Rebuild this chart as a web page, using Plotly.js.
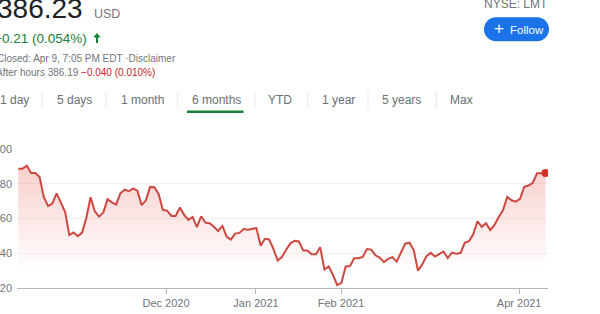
<!DOCTYPE html>
<html>
<head>
<meta charset="utf-8">
<script src="https://cdn.plot.ly/plotly-3.0.1.min.js"></script>
<style>
  html, body { margin: 0; padding: 0; background: #fff; overflow: hidden; }
  #chart { width: 600px; height: 314px; }
</style>
</head>
<body>
<div id="chart"></div>
<script>
// LMT daily closes, Oct 9 2020 – Apr 9 2021 (one value per trading session)
const closes = [
  388.7, 388.7, 390.4, 386.2, 386.2, 383.9, 372.4, 367.1, 368.6, 374.5,
  369.3, 363.9, 350.5, 351.9, 349.8, 351.9, 360.3, 372.2, 364.1, 361.1,
  363.5, 371.1, 369.3, 368.0, 374.5, 376.6, 375.7, 377.3, 376.0, 367.7,
  370.3, 378.2, 378.0, 374.1, 364.9, 364.5, 361.5, 361.5, 366.3, 362.1,
  359.2, 360.9, 355.0, 361.3, 357.6, 357.3, 355.2, 352.8, 355.7, 349.6,
  347.9, 351.3, 351.7, 353.9, 353.6, 353.9, 354.5, 344.3, 348.3, 347.9,
  342.5, 335.8, 337.8, 342.0, 345.7, 347.2, 346.8, 341.6, 341.6, 339.4,
  339.4, 343.5, 330.6, 332.4, 327.6, 321.7, 323.0, 332.4, 332.6, 337.1,
  337.1, 337.9, 342.4, 342.1, 338.8, 337.5, 334.9, 336.8, 337.8, 335.2,
  340.8, 345.5, 346.1, 341.8, 330.0, 333.6, 338.3, 340.2, 338.1, 339.8,
  341.0, 337.2, 340.4, 339.7, 340.1, 346.0, 347.0, 350.9, 358.4, 355.2,
  357.3, 353.4, 356.3, 360.9, 364.8, 372.4, 370.5, 369.7, 371.3, 378.3,
  379.0, 380.5, 386.0, 386.02, 386.23
];

// month ticks on the session axis
const monthTickPos  = [34.75, 55.9, 75.9, 117.8];
const monthTickText = ['Dec 2020', 'Jan 2021', 'Feb 2021', 'Apr 2021'];

// price axis ticks
const priceTicks = [320, 340, 360, 380, 400];

// range selector labels
const rangeLabels  = ['1 day', '5 days', '1 month', '6 months', 'YTD', '1 year', '5 years', 'Max'];
const rangeLabelX  = [-0.5, 57, 121, 191.5, 268, 322, 382, 450];
const separatorX   = [42, 105.8, 177.7, 255, 307.7, 368, 436.5];

// quote header
const lastPrice   = '386.23';
const currency    = 'USD';
const dayChange   = '+0.21 (0.054%)';
const closedNote  = 'Closed: Apr 9, 7:05 PM EDT ·Disclaimer';
const afterHours  = 'After hours 386.19';
const afterChange = '−0.040 (0.010%)';
const ticker      = 'NYSE: LMT';

const FONT = 'Liberation Sans, Arial, sans-serif';
const GREY = '#70757a';
const GREEN = '#188038';
const LINE = '#cc4840';

// plot box in page pixels
const L = 17, R = 548, T = 149, B = 288.3;
const W = R - L, H = B - T;
const px = v => (v - L) / W;
const py = v => (B - v) / H;

const idx = closes.map((_, i) => i);
const last = closes.length - 1;

const traces = [
  {
    x: idx, y: closes, type: 'scatter', mode: 'lines',
    line: { color: LINE, width: 2 },
    fill: 'tozeroy',
    fillgradient: {
      type: 'vertical',
      start: 330, stop: 392,
      colorscale: [[0, 'rgba(226,80,70,0)'], [1, 'rgba(226,80,70,0.28)']]
    },
    hoverinfo: 'skip'
  },
  {
    x: [idx[last]], y: [closes[last]], type: 'scatter', mode: 'markers',
    marker: { color: '#d93025', size: 8 },
    hoverinfo: 'skip'
  }
];

function text(t, x, y, size, color, anchor) {
  return {
    text: t, xref: 'paper', yref: 'paper', x: px(x), y: py(y),
    xanchor: anchor || 'left', yanchor: 'middle', showarrow: false,
    borderpad: 0, borderwidth: 0,
    font: { family: FONT, size: size, color: color }
  };
}

const annotations = [
  text(lastPrice, -3.5, 8.5, 28, '#202124'),
  text(currency, 94, 14.2, 12.5, GREY),
  text(dayChange, -6.5, 38, 13.5, GREEN),
  text(closedNote, -3, 58, 10, GREY),
  text(afterHours + ' <span style="color:#c5221f">' + afterChange + '</span>', -3.6, 72, 10, GREY),
  text(ticker, 548, 4, 12, GREY, 'right'),
  text('+', 499, 28.5, 17, '#ffffff', 'center'),
  text('Follow', 509.5, 29.3, 11.5, '#ffffff')
];
rangeLabels.forEach((lab, i) => {
  annotations.push(text(lab, rangeLabelX[i], 100, 12, '#6b6f74'));
});

function pathOf(pts) {
  return pts.map((p, i) => (i ? 'L' : 'M') + px(p[0]) + ',' + py(p[1])).join(' ') + ' Z';
}

const shapes = [
  // follow button (pill)
  {
    type: 'path', xref: 'paper', yref: 'paper', layer: 'above',
    path: 'M' + px(496) + ',' + py(17) + ' L' + px(537) + ',' + py(17) +
      ' C' + px(543.6) + ',' + py(17) + ' ' + px(549) + ',' + py(22.4) + ' ' + px(549) + ',' + py(29) +
      ' C' + px(549) + ',' + py(35.6) + ' ' + px(543.6) + ',' + py(41) + ' ' + px(537) + ',' + py(41) +
      ' L' + px(496) + ',' + py(41) +
      ' C' + px(489.4) + ',' + py(41) + ' ' + px(484) + ',' + py(35.6) + ' ' + px(484) + ',' + py(29) +
      ' C' + px(484) + ',' + py(22.4) + ' ' + px(489.4) + ',' + py(17) + ' ' + px(496) + ',' + py(17) + ' Z',
    fillcolor: '#1a73e8', line: { width: 0 }
  },
  // up arrow after the day change
  {
    type: 'path', xref: 'paper', yref: 'paper', layer: 'above',
    path: pathOf([[97, 32.8], [100.8, 37.2], [98, 37.2], [98, 42.8], [96, 42.8], [96, 37.2], [93.2, 37.2]]),
    fillcolor: GREEN, line: { width: 0 }
  },
  // active range underline
  {
    type: 'rect', xref: 'paper', yref: 'paper', layer: 'above',
    x0: px(187), x1: px(243.5), y0: py(110.5), y1: py(113),
    fillcolor: GREEN, line: { width: 0 }
  }
];
separatorX.forEach(sx => {
  shapes.push({
    type: 'line', xref: 'paper', yref: 'paper',
    x0: px(sx), x1: px(sx), y0: py(91), y1: py(109),
    line: { color: '#e8eaed', width: 1 }
  });
});

const layout = {
  width: 600, height: 314,
  margin: { l: L, r: 600 - R, t: T, b: 314 - B, pad: 0 },
  paper_bgcolor: '#ffffff', plot_bgcolor: '#ffffff',
  showlegend: false,
  font: { family: FONT, color: GREY },
  xaxis: {
    range: [-0.306, 124.58],
    showgrid: false, zeroline: false,
    showline: true, linecolor: '#b4b8bc', linewidth: 1,
    ticks: 'outside', ticklen: 5, tickcolor: '#b4b8bc', tickwidth: 1,
    tickmode: 'array', tickvals: monthTickPos, ticktext: monthTickText,
    tickfont: { family: FONT, size: 11, color: GREY }
  },
  yaxis: {
    range: [320, 400],
    tickmode: 'array', tickvals: priceTicks,
    showgrid: true, gridcolor: '#f1f1f1', gridwidth: 1,
    zeroline: false, showline: false, ticks: '',
    ticklabelstandoff: 4,
    tickfont: { family: FONT, size: 11, color: GREY }
  },
  annotations: annotations,
  shapes: shapes
};

Plotly.newPlot('chart', traces, layout, { staticPlot: true, displayModeBar: false });
</script>
</body>
</html>
